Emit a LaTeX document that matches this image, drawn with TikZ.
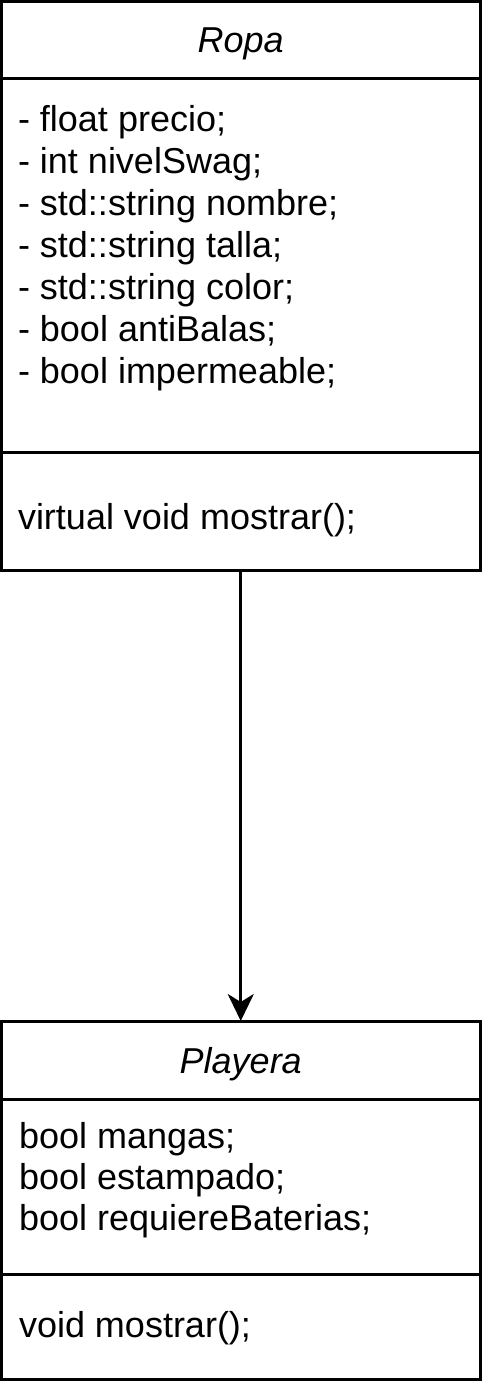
\documentclass[tikz,border=0pt]{standalone}
\usepackage{fontspec}
\setmainfont{Liberation Sans}
\usetikzlibrary{arrows.meta}
\begin{document}
\begin{tikzpicture}[x=1pt,y=1pt,
  compart/.style={draw=black,line width=3pt,inner sep=0pt,outer sep=0pt,minimum width=478.5pt,fill=white},
  txt/.style={inner sep=0pt,outer sep=0pt,anchor=base west,font=\fontsize{36}{42}\selectfont},
  ttl/.style={inner sep=0pt,outer sep=0pt,anchor=base,font=\fontsize{36}{42}\selectfont\itshape},
  inherit/.style={draw=black,line width=3pt,-{Stealth[length=27pt,width=26pt,inset=8pt]}}
]
\useasboundingbox (0,0) rectangle (483,-1383);
% Ropa
\node[compart,minimum height=77.5pt] (ropaTitle) at (240.75,-40.25) {};
\node[compart,minimum height=373pt] (ropaAttr) at (240.75,-265.5) {};
\node[compart,minimum height=118pt] (ropaMeth) at (240.75,-511) {};
\node[ttl] (ropaName) at (240.75,-53) {Ropa};
\node[txt] (ra1) at (18,-131.7) {- float precio;};
\node[txt] (ra2) at (18,-173.65) {- int nivelSwag;};
\node[txt] (ra3) at (18,-215.6) {- std::string nombre;};
\node[txt] (ra4) at (18,-257.55) {- std::string talla;};
\node[txt] (ra5) at (18,-299.5) {- std::string color;};
\node[txt] (ra6) at (18,-341.45) {- bool antiBalas;};
\node[txt] (ra7) at (18,-383.4) {- bool impermeable;};
\node[txt] (rm1) at (18,-529) {virtual void mostrar();};
% Playera
\node[compart,minimum height=78pt] (playeraTitle) at (240.75,-1060) {};
\node[compart,minimum height=175pt] (playeraAttr) at (240.75,-1186.5) {};
\node[compart,minimum height=105pt] (playeraMeth) at (240.75,-1326.5) {};
\node[ttl] (playeraName) at (240.75,-1073) {Playera};
\node[txt] (pa1) at (19,-1148) {bool mangas;};
\node[txt] (pa2) at (19,-1189) {bool estampado;};
\node[txt] (pa3) at (19,-1230.5) {bool requiereBaterias;};
\node[txt] (pm1) at (19,-1337) {void mostrar();};
% connector
\draw[inherit] (ropaMeth.south) -- (playeraTitle.north);
\end{tikzpicture}
\end{document}
